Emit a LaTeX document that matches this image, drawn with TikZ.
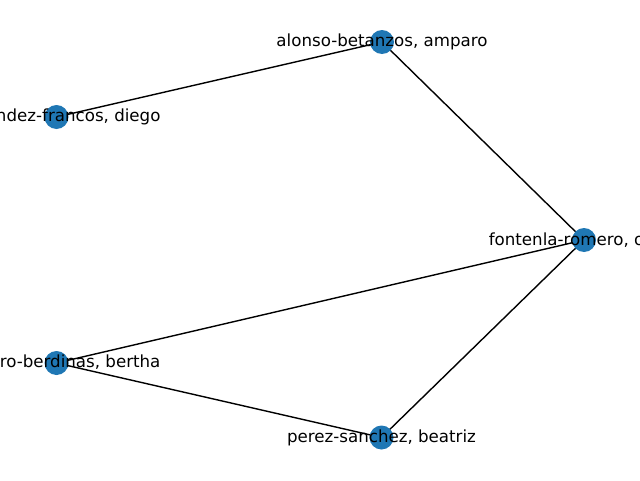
\documentclass[tikz,border=0pt]{standalone}
\usepackage{fontspec}
\setmainfont{DejaVu Sans}
\usepackage{xcolor}
\usetikzlibrary{backgrounds}
\definecolor{nodeblue}{HTML}{1F77B4}
\begin{document}
\begin{tikzpicture}[
  x=0.75pt, y=0.75pt,
  font=\fontsize{12.5}{15}\selectfont,
  person/.style={circle, fill=nodeblue, minimum size=18pt, inner sep=0pt},
  authorname/.style={inner sep=0pt, text=black},
  link/.style={draw=black, line width=1.05pt}
]
\useasboundingbox (0,0) rectangle (640,480);
\clip (0,0) rectangle (640,480);
% people
\node[person] (alonso)    at (382,438) {};
\node[person] (fernandez) at (56.5,363) {};
\node[person] (fontenla)  at (584,240) {};
\node[person] (guijarro)  at (56.5,117) {};
\node[person] (perez)     at (381.5,42.5) {};
% co-authorship links
\begin{scope}[on background layer]
\path[link] (alonso.center) -- (fernandez.center);
\path[link] (alonso.center) -- (fontenla.center);
\path[link] (fontenla.center) -- (guijarro.center);
\path[link] (fontenla.center) -- (perez.center);
\path[link] (guijarro.center) -- (perez.center);
\end{scope}
% labels
\node[authorname] (lalonso)    at (alonso)    {alonso-betanzos, amparo};
\node[authorname] (lfernandez) at (fernandez) {fernandez-francos, diego};
\node[authorname] (lfontenla)  at (fontenla)  {fontenla-romero, oscar};
\node[authorname] (lguijarro)  at (guijarro)  {guijarro-berdinas, bertha};
\node[authorname] (lperez)     at (perez)     {perez-sanchez, beatriz};
\end{tikzpicture}
\end{document}
